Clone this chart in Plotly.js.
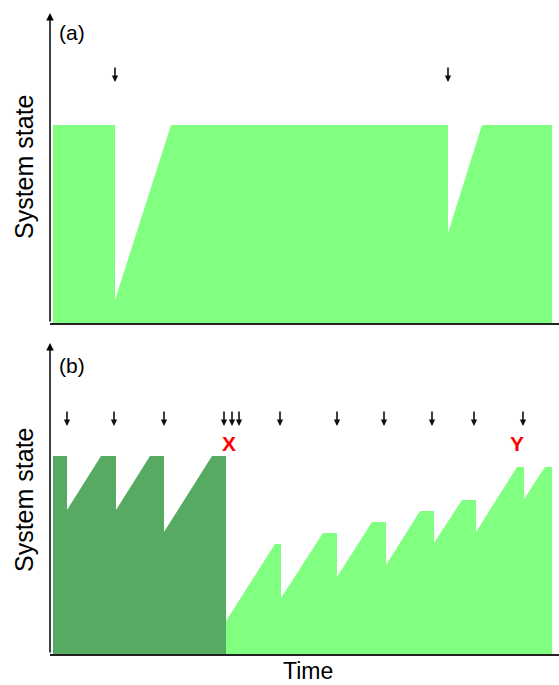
<!DOCTYPE html>
<html>
<head>
<meta charset="utf-8">
<script src="https://cdn.plot.ly/plotly-3.0.1.min.js"></script>
<style>html,body{margin:0;padding:0;background:#fff;}#chart{width:559px;height:685px;}</style>
</head>
<body>
<div id="chart"></div>
<script>
// Panel (a): system state over time (single recovery trajectory)
const timeA  = [3, 65, 65, 121, 398, 398, 432, 502];
const stateA = [198, 198, 23, 198, 198, 90, 198, 198];
// Panel (a) disturbance arrows (time)
const arrowsA = [65, 398];

// Panel (b): first regime (dark) before collapse at X
const timeB1  = [3, 17, 17, 51, 66, 66, 100, 114, 114, 162, 176];
const stateB1 = [198, 198, 144, 198, 198, 144, 198, 198, 122, 198, 198];
// Panel (b): second regime (light) after collapse
const timeB2  = [176, 225, 231, 231, 273, 287, 287, 322, 336, 336, 370, 384, 384, 412, 426, 426, 467, 474, 474, 495, 502];
const stateB2 = [33, 110, 110, 56, 121, 121, 77, 132, 132, 89, 143, 143, 111, 154, 154, 122, 187, 187, 155, 187, 187];
// Panel (b) disturbance arrows (time)
const arrowsB = [17, 64, 114, 174, 182, 189, 230, 287, 334, 382, 424, 473];
// Point labels
const markLabels = ["X", "Y"];
const markTimes  = [179, 467];

const light = "#80ff80";
const dark  = "#56aa62";
const font = "Liberation Sans, Arial, sans-serif";

const traces = [
  {x: timeA, y: stateA, mode: "none", fill: "tozeroy", fillcolor: light, xaxis: "x", yaxis: "y", hoverinfo: "skip"},
  {x: timeB1, y: stateB1, mode: "none", fill: "tozeroy", fillcolor: dark, xaxis: "x2", yaxis: "y2", hoverinfo: "skip"},
  {x: timeB2, y: stateB2, mode: "none", fill: "tozeroy", fillcolor: light, xaxis: "x2", yaxis: "y2", hoverinfo: "skip"}
];

const ann = [];
const arr = (t, s, xr, yr) => ({x: t, y: s, xref: xr, yref: yr, ax: 0, ay: -16, showarrow: true, arrowhead: 2, arrowsize: 0.8, arrowwidth: 1.6, arrowcolor: "#111", text: ""});
arrowsA.forEach(t => ann.push(arr(t, 241, "x", "y")));
arrowsB.forEach(t => ann.push(arr(t, 228, "x2", "y2")));
markLabels.forEach((m, i) => ann.push({x: markTimes[i], y: 211, xref: "x2", yref: "y2", xanchor: "center", yanchor: "middle", text: "<b>" + m + "</b>", showarrow: false, font: {family: font, size: 21, color: "#ff0000"}}));
// axis arrows
ann.push({x: 0, y: 310, xref: "x", yref: "y", ax: 0, ay: 0, axref: "x", ayref: "y", showarrow: true, arrowhead: 2, arrowsize: 1, arrowwidth: 1.5, arrowcolor: "#000", text: ""});
ann.push({x: 0, y: 311, xref: "x2", yref: "y2", ax: 0, ay: 0, axref: "x2", ayref: "y2", showarrow: true, arrowhead: 2, arrowsize: 1, arrowwidth: 1.5, arrowcolor: "#000", text: ""});
// panel labels
ann.push({x: 57/559, y: 1 - 33/685, xref: "paper", yref: "paper", xanchor: "left", yanchor: "middle", text: "(a)", showarrow: false, font: {family: font, size: 21, color: "#000"}});
ann.push({x: 57/559, y: 1 - 366/685, xref: "paper", yref: "paper", xanchor: "left", yanchor: "middle", text: "(b)", showarrow: false, font: {family: font, size: 21, color: "#000"}});
// axis titles
ann.push({x: 24/559, y: 1 - 167/685, xref: "paper", yref: "paper", xanchor: "center", yanchor: "middle", text: "System state", textangle: -90, showarrow: false, font: {family: font, size: 25, color: "#000"}});
ann.push({x: 24/559, y: 1 - 500/685, xref: "paper", yref: "paper", xanchor: "center", yanchor: "middle", text: "System state", textangle: -90, showarrow: false, font: {family: font, size: 25, color: "#000"}});
ann.push({x: 308/559, y: 1 - 671/685, xref: "paper", yref: "paper", xanchor: "center", yanchor: "middle", text: "Time", showarrow: false, font: {family: font, size: 23, color: "#000"}});

const ax = {range: [0, 509], showgrid: false, zeroline: false, showticklabels: false, ticks: "", showline: true, linecolor: "#222", linewidth: 2, domain: [50/559, 1], fixedrange: true};
const ay = {showgrid: false, zeroline: false, showticklabels: false, ticks: "", showline: false, fixedrange: true};

const layout = {
  width: 559, height: 685,
  margin: {l: 0, r: 0, t: 0, b: 0},
  paper_bgcolor: "#fff", plot_bgcolor: "#fff",
  showlegend: false,
  xaxis: Object.assign({}, ax, {anchor: "y"}),
  yaxis: Object.assign({}, ay, {range: [0, 310], domain: [1 - 323/685, 1 - 13/685], anchor: "x"}),
  xaxis2: Object.assign({}, ax, {anchor: "y2"}),
  yaxis2: Object.assign({}, ay, {range: [0, 311], domain: [1 - 654/685, 1 - 343/685], anchor: "x2"}),
  annotations: ann
};

Plotly.newPlot("chart", traces, layout, {displayModeBar: false, staticPlot: true});
</script>
</body>
</html>
